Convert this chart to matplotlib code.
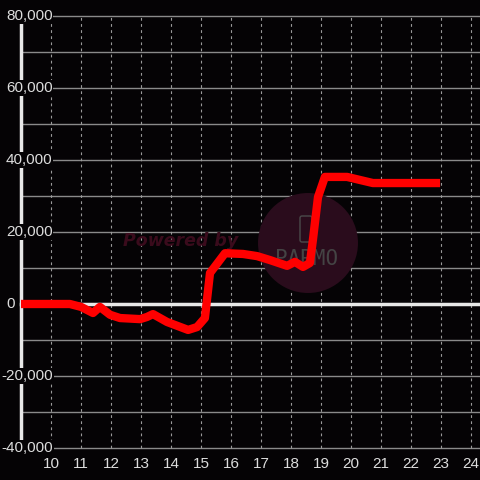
import matplotlib.pyplot as plt
from matplotlib.patches import Circle, FancyBboxPatch
from matplotlib.transforms import IdentityTransform

# data
x_vals = [9.0, 10.0, 10.63, 11.0, 11.4, 11.63, 11.97, 12.3, 12.97, 13.2, 13.4,
          13.87, 14.57, 14.87, 15.13, 15.3, 15.8, 16.4, 16.87, 17.3, 17.87,
          18.13, 18.4, 18.63, 18.73, 18.9, 19.13, 19.87, 20.73, 22.0, 22.97]
y_vals = [0, 0, 0, -800, -2500, -800, -3000, -3900, -4200, -3600, -2800,
          -5000, -7200, -6400, -3900, 8600, 14100, 13900, 13300, 12200, 10600,
          11700, 10300, 11400, 17800, 29700, 35300, 35300, 33600, 33600, 33600]

x_ticks = list(range(10, 25))
y_grid = list(range(-40000, 80001, 10000))
y_labels = list(range(-40000, 80001, 20000))

bg = '#050305'
plt.rcParams['font.family'] = ['Liberation Sans', 'DejaVu Sans']
fig = plt.figure(figsize=(4.8, 4.8), dpi=100, facecolor=bg)
ax = fig.add_axes([0, 0, 1, 1])
ax.set_facecolor(bg)
ax.set_xlim(8.3, 24.3)
ax.set_ylim(-48889, 84444)
ax.axis('off')

# grid
for y in y_grid:
    ax.plot([9, 24.3], [y, y], color='#8a8a8a', lw=1, zorder=1)
for x in x_ticks:
    ax.plot([x, x], [-40000, 80000], color='#9a9a9a', lw=0.8,
            ls=(0, (2.5, 3)), zorder=1)

# watermark (pixel coordinates)
px = IdentityTransform()
ax.add_patch(Circle((308, 480 - 243), 50, transform=px,
                    facecolor='#2a0c1c', edgecolor='none', zorder=2))
ax.add_patch(FancyBboxPatch((300, 480 - 242), 12, 26, transform=px,
                            boxstyle='round,pad=0,rounding_size=2',
                            facecolor='none', edgecolor='#4a4a4a', lw=1,
                            zorder=2))
ax.text(307, 480 - 259, 'PARMO', transform=px, color='#444444', fontsize=15,
        ha='center', va='center', family='DejaVu Sans Mono', zorder=2)
ax.text(123, 480 - 241, 'Powered by', transform=px, color='#3a0b1c',
        fontsize=12.5, fontweight='bold', style='italic', family='DejaVu Sans',
        va='center', ha='left', zorder=2)

# axes lines
ax.plot([9, 24.3], [0, 0], color='#e8e8e8', lw=2.5, zorder=3)
ax.plot([9, 9], [-40000, 77800], color='#e8e8e8', lw=2.5, zorder=3)

# series
ax.plot(x_vals, y_vals, color='#ff0000', lw=6, solid_joinstyle='round',
        solid_capstyle='butt', zorder=4)

# tick labels
for x in x_ticks:
    ax.text(x, -44400, str(x), color='#dddddd', fontsize=11,
            ha='center', va='center', zorder=5)
for y in y_labels:
    lx = 8.35 if y < 0 else 8.5
    ax.text(lx, y, f'{y:,}', color='#dddddd', fontsize=11,
            ha='left', va='center', zorder=5,
            bbox=dict(facecolor=bg, edgecolor='none', pad=0.5))

fig.savefig('out.png', dpi=100, facecolor=bg)
